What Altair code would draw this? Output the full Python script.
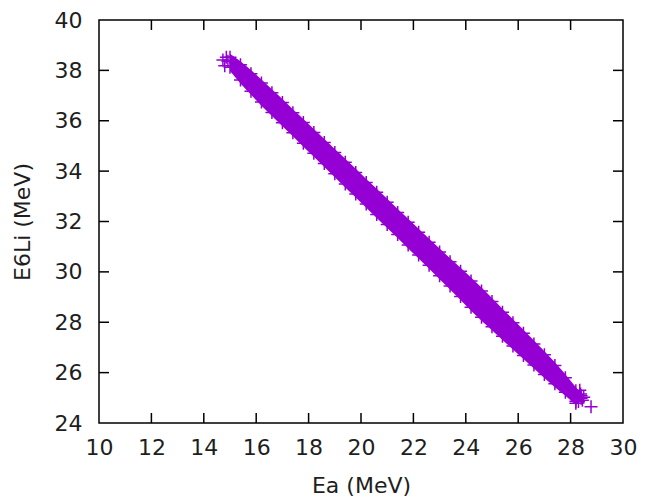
import altair as alt
import pandas as pd

PURPLE = "#9400D3"
FONT = "DejaVu Sans"
TXT = "#1e1e1e"

# Dense band of simulated events: Ea vs E6Li
band_ea = [15.0, 15.4, 15.8, 16.2, 16.6, 17.0, 17.4, 17.8, 18.2, 18.6, 19.0, 19.4,
           19.8, 20.2, 20.6, 21.0, 21.4, 21.8, 22.2, 22.6, 23.0, 23.4, 23.8, 24.2,
           24.6, 25.0, 25.4, 25.8, 26.2, 26.6, 27.0, 27.4, 27.8, 28.2, 28.4]
# solid core of the band (upper / lower limit)
band_top = [38.66, 38.36, 38.01, 37.64, 37.25, 36.86, 36.46, 36.07, 35.67, 35.28, 34.88, 34.49,
            34.09, 33.69, 33.30, 32.90, 32.50, 32.11, 31.71, 31.32, 30.93, 30.54, 30.16, 29.78,
            29.38, 28.96, 28.54, 28.12, 27.70, 27.28, 26.85, 26.41, 25.94, 25.42, 25.20]
band_bottom = [37.98, 37.48, 37.03, 36.60, 36.19, 35.78, 35.38, 34.97, 34.57, 34.16, 33.76, 33.35,
               32.95, 32.55, 32.14, 31.74, 31.34, 30.93, 30.53, 30.12, 29.71, 29.30, 28.88, 28.46,
               28.06, 27.68, 27.30, 26.92, 26.54, 26.16, 25.79, 25.42, 25.08, 24.72, 24.90]
# outermost events along the band edges
edge_top = [38.52, 38.22, 37.87, 37.50, 37.11, 36.72, 36.32, 35.93, 35.53, 35.14, 34.74, 34.35,
            33.95, 33.55, 33.16, 32.76, 32.36, 31.97, 31.57, 31.18, 30.79, 30.40, 30.02, 29.64,
            29.24, 28.82, 28.40, 27.98, 27.56, 27.14, 26.71, 26.28, 25.80, 25.28, 25.08]
edge_bottom = [38.12, 37.62, 37.17, 36.74, 36.33, 35.92, 35.52, 35.11, 34.71, 34.30, 33.90, 33.49,
               33.09, 32.69, 32.28, 31.88, 31.48, 31.07, 30.67, 30.26, 29.85, 29.44, 29.02, 28.60,
               28.20, 27.82, 27.44, 27.06, 26.68, 26.30, 25.93, 25.56, 25.22, 24.86, 24.98]

# Isolated events at both ends of the band
loose_ea = [14.73, 14.80, 14.92, 14.86, 28.78, 28.30, 28.38, 28.50, 28.20, 28.35, 28.45]
loose_e6li = [38.41, 38.18, 38.36, 38.52, 24.65, 24.85, 25.15, 25.02, 24.78, 25.30, 24.90]

x_ticks = [10, 12, 14, 16, 18, 20, 22, 24, 26, 28, 30]
y_ticks = [24, 26, 28, 30, 32, 34, 36, 38, 40]

W, H = 524, 403
PLUS = "M-1,0L1,0M0,-1L0,1"

band = pd.DataFrame({"Ea": band_ea, "top": band_top, "bottom": band_bottom})
edges = pd.DataFrame({"Ea": band_ea + band_ea, "E6Li": edge_top + edge_bottom})
loose = pd.DataFrame({"Ea": loose_ea, "E6Li": loose_e6li})
xt = pd.DataFrame({"v": x_ticks[1:-1]})
yt = pd.DataFrame({"v": y_ticks[1:-1]})

xscale = alt.Scale(domain=[10, 30], nice=False, zero=False)
yscale = alt.Scale(domain=[24, 40], nice=False, zero=False)

xaxis = alt.Axis(values=x_ticks, ticks=False, domain=False, grid=False,
                 labelFont=FONT, labelFontSize=22, labelColor=TXT, labelPadding=14,
                 title="Ea (MeV)", titleFont=FONT, titleFontSize=22, titleFontWeight="normal",
                 titleColor=TXT, titlePadding=17, labelFlush=False)
yaxis = alt.Axis(values=y_ticks, ticks=False, domain=False, grid=False,
                 labelFont=FONT, labelFontSize=22, labelColor=TXT, labelPadding=17,
                 title="E6Li (MeV)", titleFont=FONT, titleFontSize=22, titleFontWeight="normal",
                 titleColor=TXT, titlePadding=20, labelFlush=False)

area = alt.Chart(band).mark_area(color=PURPLE, opacity=1).encode(
    x=alt.X("Ea:Q", scale=xscale, axis=xaxis),
    y=alt.Y("top:Q", scale=yscale, axis=yaxis),
    y2="bottom:Q",
)

pts_edges = alt.Chart(edges).mark_point(shape=PLUS, size=169, filled=False, strokeWidth=1.5,
                                        color=PURPLE, opacity=1).encode(
    x=alt.X("Ea:Q", scale=xscale), y=alt.Y("E6Li:Q", scale=yscale))
pts_loose = alt.Chart(loose).mark_point(shape=PLUS, size=169, filled=False, strokeWidth=1.5,
                                        color=PURPLE, opacity=1).encode(
    x=alt.X("Ea:Q", scale=xscale), y=alt.Y("E6Li:Q", scale=yscale))

tick_style = dict(color="black", strokeWidth=1.5)
xt_bottom = alt.Chart(xt).mark_rule(**tick_style).encode(
    x=alt.X("v:Q", scale=xscale), y=alt.value(H), y2=alt.value(H - 10))
xt_top = alt.Chart(xt).mark_rule(**tick_style).encode(
    x=alt.X("v:Q", scale=xscale), y=alt.value(0), y2=alt.value(10))
yt_left = alt.Chart(yt).mark_rule(**tick_style).encode(
    y=alt.Y("v:Q", scale=yscale), x=alt.value(0), x2=alt.value(10))
yt_right = alt.Chart(yt).mark_rule(**tick_style).encode(
    y=alt.Y("v:Q", scale=yscale), x=alt.value(W), x2=alt.value(W - 10))

chart = alt.layer(area, pts_edges, pts_loose, xt_bottom, xt_top, yt_left, yt_right).properties(
    width=W, height=H,
    autosize=alt.AutoSizeParams(type="none"),
    padding={"left": 91, "top": 12, "right": 14, "bottom": 78},
).configure_view(stroke="black", strokeWidth=1.5)

chart.save("out.html", embed_options={"renderer": "svg", "actions": False})
